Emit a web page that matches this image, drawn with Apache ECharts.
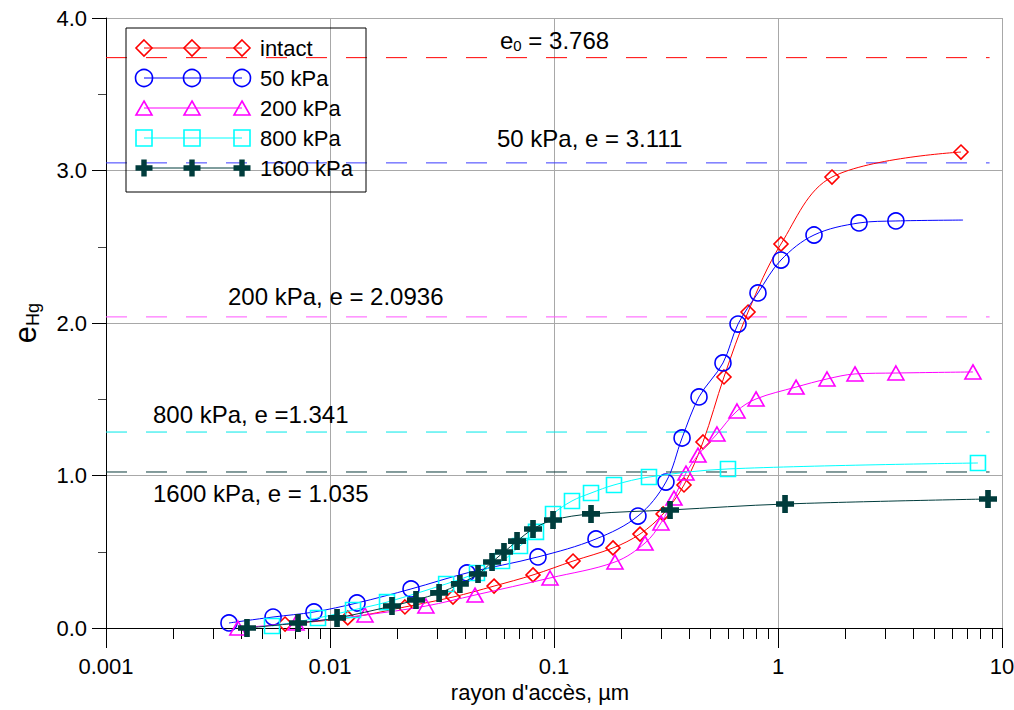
<!DOCTYPE html>
<html><head><meta charset="utf-8">
<script src="https://cdn.jsdelivr.net/npm/echarts@6/dist/echarts.min.js"></script>
<style>html,body{margin:0;padding:0;background:#fff}#c{width:1014px;height:710px}</style>
</head><body><div id="c"></div>
<script>
// ---------- data ----------
const seriesNames = ['intact', '50 kPa', '200 kPa', '800 kPa', '1600 kPa'];
const intactX = [0.0063, 0.0120, 0.0216, 0.0354, 0.0540, 0.0806, 0.1216, 0.1834, 0.242, 0.307, 0.3805, 0.4626, 0.574, 0.735, 1.031, 1.742, 6.56];
const intactY = [0.026, 0.066, 0.138, 0.203, 0.275, 0.348, 0.439, 0.525, 0.616, 0.748, 0.938, 1.220, 1.646, 2.072, 2.518, 2.957, 3.121];
const kpa50X = [0.00354, 0.00557, 0.00848, 0.0132, 0.0230, 0.0409, 0.0848, 0.154, 0.237, 0.316, 0.373, 0.444, 0.568, 0.663, 0.814, 1.031, 1.448, 2.30, 3.36, 6.70];
const kpa50Y = [0.033, 0.072, 0.105, 0.164, 0.256, 0.361, 0.466, 0.584, 0.734, 0.957, 1.246, 1.515, 1.738, 1.993, 2.197, 2.413, 2.577, 2.656, 2.669, 2.675];
const kpa200X = [0.00388, 0.00705, 0.01433, 0.0268, 0.0444, 0.0960, 0.1872, 0.2549, 0.3004, 0.3433, 0.3884, 0.4394, 0.534, 0.656, 0.798, 1.204, 1.655, 2.207, 3.36, 7.42];
const kpa200Y = [0.0, 0.033, 0.085, 0.144, 0.216, 0.328, 0.433, 0.557, 0.689, 0.852, 1.016, 1.134, 1.272, 1.423, 1.502, 1.580, 1.633, 1.666, 1.672, 1.679];
const kpa800X = [0.00551, 0.00884, 0.01267, 0.01797, 0.0330, 0.0453, 0.0586, 0.0705, 0.0831, 0.0990, 0.1203, 0.1463, 0.1853, 0.2655, 0.598, 7.81];
const kpa800Y = [0.013, 0.066, 0.118, 0.170, 0.289, 0.361, 0.439, 0.538, 0.630, 0.748, 0.833, 0.885, 0.938, 0.990, 1.043, 1.082];
const kpa1600X = [0.00426, 0.00720, 0.01075, 0.01891, 0.0242, 0.0307, 0.0380, 0.0458, 0.0529, 0.0598, 0.0684, 0.0806, 0.0990, 0.1463, 0.3296, 1.075, 8.66];
const kpa1600Y = [0.0, 0.033, 0.066, 0.144, 0.184, 0.230, 0.289, 0.354, 0.433, 0.498, 0.570, 0.649, 0.708, 0.748, 0.774, 0.813, 0.846];
// reference (dashed) levels and their labels
const refLevels = [3.74, 3.05, 2.04, 1.285, 1.023];
const refLabels = ['e0 = 3.768', '50 kPa, e = 3.111', '200 kPa, e = 2.0936', '800 kPa, e =1.341', '1600 kPa, e = 1.035'];
const refLineEnd = [0.001, 8.8];
// axes
const xTickValues = [0.001, 0.01, 0.1, 1, 10];
const xTickLabels = ['0.001', '0.01', '0.1', '1', '10'];
const xMinorTicks = [0.002,0.003,0.004,0.005,0.006,0.007,0.008,0.009,0.02,0.03,0.04,0.05,0.06,0.07,0.08,0.09,0.2,0.3,0.4,0.5,0.6,0.7,0.8,0.9,2,3,4,5,6,7,8,9];
const yTickLabels = ['0.0', '1.0', '2.0', '3.0', '4.0'];
const xAxisTitle = "rayon d'accès, µm";
const yAxisTitle = ['e', 'Hg'];

// ---------- styles ----------
const FONT = 'Liberation Sans, Arial, sans-serif';
const colors = ['#ff0000', '#0000ff', '#ff00ff', '#00ffff', '#003c3c'];
const refColors = ['#ff0000', '#3a3aff', '#ff55ff', '#00e8e8', '#0a3a3a'];
const plusPath = 'path://M5.5,0H10.5V5.5H16V10.5H10.5V16H5.5V10.5H0V5.5H5.5Z';
const symbols = ['diamond', 'circle', 'triangle', 'rect', plusPath];
const symbolSizes = [[14, 14], 16, [16, 14], 15, 18];
const xs = [intactX, kpa50X, kpa200X, kpa800X, kpa1600X];
const ys = [intactY, kpa50Y, kpa200Y, kpa800Y, kpa1600Y];

const series = [];
refLevels.forEach((v, i) => {
  series.push({
    type: 'line', silent: true, symbol: 'none', z: 1,
    data: refLineEnd.map(x => [x, v]),
    lineStyle: { color: refColors[i], width: 1, type: [21, 19] }
  });
});
seriesNames.forEach((name, i) => {
  const data = xs[i].map((x, k) => [x, ys[i][k]]);
  if (i === 1) { // last point of 50 kPa curve carries no marker
    const last = data.pop();
    data.push({ value: last, symbol: 'none' });
  }
  const filled = i === 4;
  series.push({
    name, type: 'line', data, smooth: 0.35, z: 3 + i,
    symbol: symbols[i], symbolSize: symbolSizes[i],
    lineStyle: { color: colors[i], width: 1 },
    itemStyle: filled ? { color: colors[i], borderWidth: 0 } :
      { color: 'rgba(255,255,255,0)', borderColor: colors[i], borderWidth: 1.6 }
  });
});

// ---------- custom legend (three markers per item) ----------
const legendLeft = 126, legendTop = 28, legendW = 240, legendH = 164;
const rowY0 = 48, rowStep = 30, mx = [144, 192, 242], textX = 260;
function marker(i, cx, cy) {
  const c = colors[i];
  const st = { fill: 'none', stroke: c, lineWidth: 1.6 };
  if (i === 0) return { type: 'polygon', shape: { points: [[cx, cy - 8], [cx + 8, cy], [cx, cy + 8], [cx - 8, cy]] }, style: st };
  if (i === 1) return { type: 'circle', shape: { cx, cy, r: 8.5 }, style: st };
  if (i === 2) return { type: 'polygon', shape: { points: [[cx, cy - 7], [cx + 8, cy + 7], [cx - 8, cy + 7]] }, style: st };
  if (i === 3) return { type: 'rect', shape: { x: cx - 8, y: cy - 8, width: 16, height: 16 }, style: st };
  const a = 2.7, b = 8.5;
  return { type: 'polygon', shape: { points: [[cx - a, cy - b], [cx + a, cy - b], [cx + a, cy - a], [cx + b, cy - a], [cx + b, cy + a], [cx + a, cy + a], [cx + a, cy + b], [cx - a, cy + b], [cx - a, cy + a], [cx - b, cy + a], [cx - b, cy - a], [cx - a, cy - a]] }, style: { fill: c } };
}
const graphic = [{ type: 'rect', shape: { x: legendLeft, y: legendTop, width: legendW, height: legendH }, style: { fill: 'none', stroke: '#000', lineWidth: 1 }, z: 10 }];
seriesNames.forEach((name, i) => {
  const cy = rowY0 + i * rowStep;
  graphic.push({ type: 'line', shape: { x1: mx[0], y1: cy, x2: mx[2], y2: cy }, style: { stroke: colors[i], lineWidth: 1 }, z: 10 });
  mx.forEach(cx => graphic.push(Object.assign(marker(i, cx, cy), { z: 11 })));
  graphic.push({ type: 'text', x: textX, y: cy, z: 11, style: { text: name, font: '22px ' + FONT, fill: '#000', verticalAlign: 'middle', align: 'left' } });
});
// annotation texts for dashed levels
const annPos = [[500, 40], [497, 138], [228, 296], [153, 414], [153, 493]];
refLabels.forEach((t, i) => {
  let style;
  if (i === 0) {
    const rest = t.slice(2);
    style = { text: '{a|e}{b|0}{a|' + rest + '}', rich: { a: { font: '24px ' + FONT, fill: '#000', lineHeight: 30, verticalAlign: 'middle' }, b: { font: '15px ' + FONT, fill: '#000', lineHeight: 30, verticalAlign: 'bottom', padding: [0, 0, 2, 0] } } };
  } else {
    style = { text: t, font: '24px ' + FONT, fill: '#000' };
  }
  style.verticalAlign = 'middle'; style.align = 'left';
  graphic.push({ type: 'text', x: annPos[i][0], y: annPos[i][1], z: 12, style });
});

const option = {
  animation: false,
  backgroundColor: '#fff',
  grid: { left: 106, right: 12, top: 18, bottom: 82, containLabel: false, outerBoundsMode: 'none' },
  xAxis: [{
    type: 'log', logBase: 10, min: 0.001, max: 10,
    axisLine: { show: true, onZero: false, lineStyle: { color: '#000', width: 1 } },
    axisTick: { show: true, length: 20, lineStyle: { color: '#000' } },
    axisLabel: { fontSize: 22, fontFamily: FONT, color: '#000', margin: 27,
      formatter: v => { let best = 0; xTickValues.forEach((t, k) => { if (Math.abs(Math.log10(t) - Math.log10(v)) < Math.abs(Math.log10(xTickValues[best]) - Math.log10(v))) best = k; }); return xTickLabels[best]; } },
    splitLine: { show: true, lineStyle: { color: '#a8a8a8', width: 1 } },
    name: xAxisTitle, nameLocation: 'middle', nameGap: 53,
    nameTextStyle: { fontSize: 22, fontFamily: FONT, color: '#000', padding: [0, 28, 0, 0] }
  }, {
    type: 'log', logBase: 10, min: 0.001, max: 10, position: 'bottom',
    axisLine: { show: false },
    axisTick: { show: true, length: 11, customValues: xMinorTicks, lineStyle: { color: '#000' } },
    axisLabel: { show: false },
    splitLine: { show: false }
  }],
  yAxis: {
    type: 'value', min: 0, max: 4, interval: 1,
    axisLine: { show: true, onZero: false, lineStyle: { color: '#000', width: 1 } },
    axisTick: { show: true, length: 14, lineStyle: { color: '#000' } },
    minorTick: { show: true, splitNumber: 2, length: 8, lineStyle: { color: '#444' } },
    axisLabel: { fontSize: 22, fontFamily: FONT, color: '#000', margin: 19, formatter: v => yTickLabels[Math.round(v)] },
    splitLine: { show: true, lineStyle: { color: '#a8a8a8', width: 1 } },
    name: '{e|' + yAxisTitle[0] + '}{s|' + yAxisTitle[1] + '}', nameLocation: 'middle', nameGap: 64, nameRotate: 90,
    nameTextStyle: { rich: {
      e: { fontSize: 31, fontFamily: FONT, color: '#000', lineHeight: 34, verticalAlign: 'middle' },
      s: { fontSize: 18, fontFamily: FONT, color: '#000', lineHeight: 34, verticalAlign: 'bottom' } } }
  },
  graphic,
  series
};
const chart = echarts.init(document.getElementById('c'), null, { renderer: 'svg' });
chart.setOption(option);
</script></body></html>
